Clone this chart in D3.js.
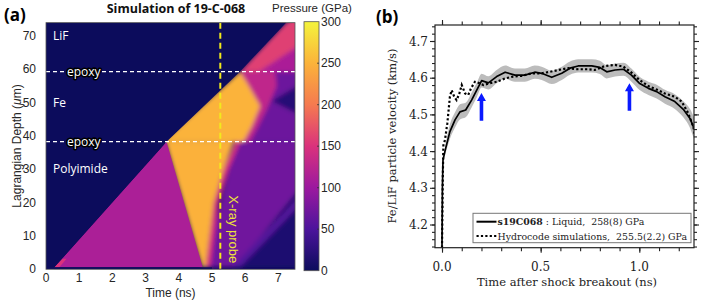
<!DOCTYPE html>
<html>
<head>
<meta charset="utf-8">
<script src="https://cdn.jsdelivr.net/npm/d3@7"></script>
<style>
   body { margin: 0; background: #fff; }
   svg { display: block; }
</style>
</head>
<body>
<svg id="chart" width="706" height="301"></svg>
<script>

// PANEL A : PRESSURE COLOUR SCALE
var pressureStops = [0, 50, 100, 150, 200, 250, 300];
var pressureColors = ['#0c0c5c', '#4c149c', '#9c199f', '#da327c', '#f57a50', '#fbb33a', '#f4f43c'];
var pressureTicks = [0, 50, 100, 150, 200, 250, 300];

// PANEL A : AXES
var timeTicks = [0, 1, 2, 3, 4, 5, 6, 7];
var depthTicks = [0, 10, 20, 30, 40, 50, 60, 70];
var epoxyDepths = [38.3, 59.3];
var probeTime = 5.25;

// PANEL A : SIMULATION REGIONS [time (ns), depth (um)] AND PRESSURE (GPa)
var softRegions = [
   [[4.8, 0.6], [5.7, 38.3], [7.9, 38.3], [7.9, 27], [5.7, 0.6]],
   [[5.7, 0.6], [7.9, 26], [7.9, 0.6]],
   [[5.6, 0.6], [5.85, 0.6], [7.9, 22], [7.9, 25]],
   [[5.6, 38.3], [7.9, 38.3], [7.9, 59.3], [5.84, 59.3]],
   [[5.84, 59.3], [6.9, 59.3], [6.95, 55], [6.65, 48], [6.35, 42], [6.15, 38.3], [5.7, 38.3]],
   [[6.8, 50.5], [7.9, 57], [7.9, 45]],
   [[5.84, 59.3], [7.23, 74], [7.9, 78], [7.9, 59.3]],
   [[6.4, 59.3], [7.9, 59.3], [7.9, 69]],
   [[3.5, 38.3], [5.84, 59.3], [6.05, 56], [6.45, 49], [6.2, 43], [5.95, 38.3]],
   [[4.8, 0.6], [5.05, 20], [5.35, 30], [5.7, 38.3], [5.85, 38.3], [5.5, 30], [5.2, 20], [4.95, 0.6]],
   [[3.6, 38.3], [4.7, 0.6], [4.8, 0.6], [5.05, 20], [5.35, 30], [5.65, 38.3]]
];
var softPressure = [72, 15, 55, 70, 128, 20, 160, 112, 250, 150, 248];

var sharpRegions = [
   [[0.25, 0.6], [3.63, 38.3], [4.72, 0.6]],
   [[0.25, 0.6], [0.5, 3.2], [0.62, 3.2], [0.4, 0.6]],
   [[0, 0], [0, 80], [7.5, 80], [7.23, 74], [5.84, 59.3], [3.63, 38.3], [0.25, 0.6], [0.25, 0], [5.0, 0], [5.0, 0.6], [0, 0.6]]
];
var sharpPressure = [112, 150, 0];

// PANEL A : LABELS
var layerNames = ['LiF', 'Fe', 'Polyimide'];
var layerDepths = [70, 50, 30];

// PANEL B : s19C068 MEASUREMENT
var measTime = [0, 0.002, 0.005, 0.015, 0.04, 0.066, 0.091, 0.12, 0.15, 0.176, 0.201, 0.235, 0.277, 0.32, 0.37, 0.42, 0.47, 0.505, 0.556, 0.607, 0.649, 0.69, 0.759, 0.8, 0.835, 0.877, 0.92, 0.96, 1.0, 1.046, 1.088, 1.13, 1.18, 1.223, 1.257, 1.279];
var measVel = [4.137, 4.30, 4.375, 4.40, 4.453, 4.485, 4.507, 4.512, 4.539, 4.566, 4.592, 4.586, 4.603, 4.615, 4.607, 4.607, 4.615, 4.612, 4.601, 4.612, 4.626, 4.632, 4.632, 4.628, 4.616, 4.621, 4.623, 4.607, 4.585, 4.571, 4.562, 4.548, 4.535, 4.514, 4.489, 4.460];
var measErr = [0, 0, 0, 0.012, 0.02, 0.021, 0.021, 0.02, 0.02, 0.02, 0.019, 0.018, 0.018, 0.018, 0.018, 0.018, 0.018, 0.018, 0.018, 0.018, 0.018, 0.018, 0.018, 0.018, 0.018, 0.018, 0.018, 0.018, 0.018, 0.018, 0.019, 0.019, 0.02, 0.022, 0.026, 0.03];

// PANEL B : HYDROCODE SIMULATION
var simTime = [0, 0.004, 0.007, 0.015, 0.027, 0.04, 0.049, 0.062, 0.074, 0.088, 0.1, 0.117, 0.133, 0.147, 0.167, 0.19, 0.21, 0.243, 0.277, 0.32, 0.36, 0.404, 0.455, 0.505, 0.547, 0.59, 0.64, 0.69, 0.742, 0.775, 0.826, 0.877, 0.92, 0.96, 1.0, 1.046, 1.096, 1.13, 1.18, 1.215, 1.248, 1.274, 1.283];
var simVel = [4.137, 4.33, 4.416, 4.43, 4.476, 4.548, 4.566, 4.548, 4.539, 4.557, 4.58, 4.557, 4.553, 4.571, 4.589, 4.585, 4.58, 4.585, 4.589, 4.598, 4.603, 4.605, 4.612, 4.612, 4.616, 4.621, 4.626, 4.623, 4.623, 4.621, 4.632, 4.635, 4.630, 4.614, 4.594, 4.577, 4.566, 4.557, 4.548, 4.535, 4.503, 4.466, 4.44];

// PANEL B : ARROWS AND TICKS
var arrowTime = [0.2, 0.95];
var arrowFrom = [4.483, 4.51];
var arrowTo = [4.558, 4.585];
var velTicks = [4.2, 4.3, 4.4, 4.5, 4.6, 4.7];
var velMinor = d3.range(4.14, 4.745, 0.02);
var tTicks = [0, 0.5, 1.0];
var tMinor = [0, 0.1, 0.2, 0.3, 0.4, 0.5, 0.6, 0.7, 0.8, 0.9, 1.0, 1.1, 1.2];

var legendNames = ['s19C068', 'Hydrocode simulations,\u00a0\u00a0255.5(2.2) GPa'];

var svg = d3.select('#chart');
var defs = svg.append('defs');

// ================= PANEL A =================
var a = { left: 46, right: 295, top: 22, bottom: 269.3 };

var xA = d3.scaleLinear().domain([0, 7.5]).range([a.left, a.right]);
var yA = d3.scaleLinear().domain([0, 74]).range([a.bottom, a.bottom - 74 * 3.333]);
var color = d3.scaleLinear().domain(pressureStops).range(pressureColors).interpolate(d3.interpolateRgb);

var pathA = d3.line()
   .x((d) => { return xA(d[0]) })
   .y((d) => { return yA(d[1]) })

defs.append('clipPath').attr('id', 'clipA')
   .append('rect')
      .attr('x', a.left).attr('y', yA(74))
      .attr('width', a.right - a.left).attr('height', a.bottom - yA(74))

defs.append('filter').attr('id', 'soft')
   .attr('x', '-20%').attr('y', '-20%').attr('width', '140%').attr('height', '140%')
   .append('feGaussianBlur').attr('stdDeviation', 2.2)

var heat = svg.append('g').attr('clip-path', 'url(#clipA)');

// BACKGROUND
heat.append('rect')
   .attr('x', a.left).attr('y', yA(74))
   .attr('width', a.right - a.left).attr('height', a.bottom - yA(74))
   .attr('fill', color(0))

// BLURRED REGIONS
heat.append('g').attr('filter', 'url(#soft)')
   .selectAll('path')
   .data(softRegions)
      .enter().append('path')
         .attr('d', (d) => { return pathA(d) + 'Z' })
         .attr('fill', (d, i) => { return color(softPressure[i]) })

// SHARP FRONTS
heat.append('g')
   .selectAll('path')
   .data(sharpRegions)
      .enter().append('path')
         .attr('d', (d) => { return pathA(d) + 'Z' })
         .attr('fill', (d, i) => { return color(sharpPressure[i]) })

// EPOXY LINES
heat.selectAll('.epoxy')
   .data(epoxyDepths)
      .enter().append('line')
         .attr('x1', a.left).attr('x2', a.right)
         .attr('y1', (d) => { return yA(d) }).attr('y2', (d) => { return yA(d) })
         .attr('stroke', '#fff')
         .attr('stroke-width', 1.4)
         .attr('stroke-dasharray', '4,3')

// X-RAY PROBE LINE
heat.append('line')
   .attr('x1', xA(probeTime)).attr('x2', xA(probeTime))
   .attr('y1', yA(74)).attr('y2', a.bottom)
   .attr('stroke', '#f2ea1c')
   .attr('stroke-width', 2)
   .attr('stroke-dasharray', '6,4')

heat.append('text')
   .attr('transform', 'translate(' + (xA(probeTime) + 9) + ',' + yA(12) + ') rotate(90)')
   .attr('text-anchor', 'middle')
   .attr('font-family', 'Liberation Sans')
   .attr('font-size', 13)
   .attr('fill', '#ece33a')
   .text('X-ray probe')

// LAYER NAMES
svg.selectAll('.layer')
   .data(layerNames)
      .enter().append('text')
         .attr('x', 53)
         .attr('y', (d, i) => { return yA(layerDepths[i]) + 4 })
         .attr('font-family', 'Open Sans')
         .attr('font-size', 12)
         .attr('fill', '#fff')
         .text((d) => { return d })

svg.selectAll('.epoxyLabel')
   .data(epoxyDepths)
      .enter().append('text')
         .attr('x', 67)
         .attr('y', (d) => { return yA(d) + 4 })
         .attr('font-family', 'Open Sans')
         .attr('font-size', 12)
         .attr('fill', '#fff')
         .attr('stroke', '#000')
         .attr('stroke-width', 3)
         .attr('stroke-linejoin', 'round')
         .attr('paint-order', 'stroke')
         .text('epoxy')

// FRAME
svg.append('rect')
   .attr('x', a.left).attr('y', yA(74))
   .attr('width', a.right - a.left).attr('height', a.bottom - yA(74))
   .attr('fill', 'none')
   .attr('stroke', '#555')
   .attr('stroke-width', 0.8)

// AXES A
svg.selectAll('.tA')
   .data(timeTicks)
      .enter().append('text')
         .attr('x', (d) => { return xA(d) })
         .attr('y', 282)
         .attr('text-anchor', 'middle')
         .attr('font-family', 'Liberation Sans')
         .attr('font-size', 12)
         .attr('fill', '#262626')
         .text((d) => { return d })

svg.selectAll('.dA')
   .data(depthTicks)
      .enter().append('text')
         .attr('x', 36)
         .attr('y', (d) => { return yA(d) + 4 })
         .attr('text-anchor', 'end')
         .attr('font-family', 'Liberation Sans')
         .attr('font-size', 12)
         .attr('fill', '#262626')
         .text((d) => { return d })

svg.append('text')
   .attr('x', xA(3.75)).attr('y', 297)
   .attr('text-anchor', 'middle')
   .attr('font-family', 'Liberation Sans')
   .attr('font-size', 12)
   .attr('fill', '#262626')
   .text('Time (ns)')

var ylab = svg.append('text')
   .attr('transform', 'translate(21,' + yA(37) + ') rotate(-90)')
   .attr('text-anchor', 'middle')
   .attr('font-family', 'Liberation Sans')
   .attr('font-size', 12)
   .attr('fill', '#262626')
ylab.append('tspan').text('Lagrangian Depth (')
ylab.append('tspan').attr('font-style', 'italic').text('μ')
ylab.append('tspan').text('m)')

svg.append('text')
   .attr('x', 176).attr('y', 12.5)
   .attr('text-anchor', 'middle')
   .attr('font-family', 'Open Sans')
   .attr('font-weight', 'bold')
   .attr('font-size', 12.5)
   .attr('fill', '#111')
   .text('Simulation of 19-C-068')

svg.append('text')
   .attr('x', 4).attr('y', 21)
   .attr('font-family', 'Open Sans')
   .attr('font-weight', 'bold')
   .attr('font-size', 17)
   .attr('fill', '#000')
   .text('(a)')

// COLOURBAR
var cb = { left: 304, right: 319, top: 21.7, bottom: 270.7 };
var yC = d3.scaleLinear().domain([0, 300]).range([cb.bottom, cb.top]);

var grad = defs.append('linearGradient').attr('id', 'cbar')
   .attr('x1', 0).attr('y1', 1).attr('x2', 0).attr('y2', 0)
grad.selectAll('stop')
   .data(pressureStops)
      .enter().append('stop')
         .attr('offset', (d) => { return d / 300 })
         .attr('stop-color', (d) => { return color(d) })

svg.append('rect')
   .attr('x', cb.left).attr('y', cb.top)
   .attr('width', cb.right - cb.left).attr('height', cb.bottom - cb.top)
   .attr('fill', 'url(#cbar)')
   .attr('stroke', '#555')
   .attr('stroke-width', 0.8)

svg.selectAll('.cbTick')
   .data(pressureTicks.slice(1, -1))
      .enter().append('line')
         .attr('x1', cb.right - 2).attr('x2', cb.right)
         .attr('y1', (d) => { return yC(d) }).attr('y2', (d) => { return yC(d) })
         .attr('stroke', '#333')
         .attr('stroke-width', 0.8)

svg.selectAll('.cbLabel')
   .data(pressureTicks)
      .enter().append('text')
         .attr('x', 321)
         .attr('y', (d) => { return yC(d) + 4 })
         .attr('font-family', 'Liberation Sans')
         .attr('font-size', 12)
         .attr('fill', '#262626')
         .text((d) => { return d })

svg.append('text')
   .attr('x', 272).attr('y', 12)
   .attr('font-family', 'Liberation Sans')
   .attr('font-size', 11.5)
   .attr('fill', '#262626')
   .text('Pressure (GPa)')

// ================= PANEL B =================
var b = { left: 435, right: 694, top: 25, bottom: 247.7 };

var xB = d3.scaleLinear().domain([-0.0355, 1.2772]).range([b.left, b.right]);
var yB = d3.scaleLinear().domain([4.1368, 4.7436]).range([b.bottom, b.top]);

defs.append('clipPath').attr('id', 'clipB')
   .append('rect')
      .attr('x', b.left).attr('y', b.top)
      .attr('width', b.right - b.left).attr('height', b.bottom - b.top)

var plot = svg.append('g').attr('clip-path', 'url(#clipB)');

// ERROR BAND
var bandIdx = d3.range(3, measTime.length);
var band = d3.area()
   .x((i) => { return xB(measTime[i]) })
   .y0((i) => { return yB(measVel[i] - measErr[i]) })
   .y1((i) => { return yB(measVel[i] + measErr[i]) })
   .curve(d3.curveMonotoneX)

plot.append('path')
   .attr('d', band(bandIdx))
   .attr('fill', '#bcbcbc')

// LINES
var lineB = d3.line()
   .x((d) => { return xB(d[0]) })
   .y((d) => { return yB(d[1]) })

plot.append('path')
   .attr('d', lineB(d3.zip(simTime, simVel)))
   .attr('fill', 'none')
   .attr('stroke', '#000')
   .attr('stroke-width', 2.2)
   .attr('stroke-dasharray', '2.2,2.2')

plot.append('path')
   .attr('d', lineB(d3.zip(measTime, measVel)))
   .attr('fill', 'none')
   .attr('stroke', '#000')
   .attr('stroke-width', 1.7)
   .attr('stroke-linejoin', 'round')

// BLUE ARROWS
plot.selectAll('.arrow')
   .data(arrowTime)
      .enter().append('path')
         .attr('d', (d, i) => {
            var x = xB(d), y0 = yB(arrowFrom[i]), y1 = yB(arrowTo[i]);
            return 'M' + (x - 1.8) + ',' + y0 + 'V' + (y1 + 8) + 'H' + (x - 4.5) +
               'L' + x + ',' + y1 + 'L' + (x + 4.5) + ',' + (y1 + 8) + 'H' + (x + 1.8) + 'V' + y0 + 'Z';
         })
         .attr('fill', '#0a1aff')

// FRAME
svg.append('rect')
   .attr('x', b.left).attr('y', b.top)
   .attr('width', b.right - b.left).attr('height', b.bottom - b.top)
   .attr('fill', 'none')
   .attr('stroke', '#222')
   .attr('stroke-width', 1.2)

// TICKS (OUTWARD, ALL SIDES)
function ticks(g, axis) {
   g.call(axis);
   g.select('.domain').remove();
   g.selectAll('line').attr('stroke', '#222').attr('stroke-width', 1.1);
   g.selectAll('text').remove();
}

svg.append('g').attr('transform', 'translate(' + b.left + ',0)')
   .call(ticks, d3.axisLeft(yB).tickValues(velTicks).tickSize(5))
svg.append('g').attr('transform', 'translate(' + b.left + ',0)')
   .call(ticks, d3.axisLeft(yB).tickValues(velMinor).tickSize(3))
svg.append('g').attr('transform', 'translate(' + b.right + ',0)')
   .call(ticks, d3.axisRight(yB).tickValues(velTicks).tickSize(5))
svg.append('g').attr('transform', 'translate(' + b.right + ',0)')
   .call(ticks, d3.axisRight(yB).tickValues(velMinor).tickSize(3))
svg.append('g').attr('transform', 'translate(0,' + b.bottom + ')')
   .call(ticks, d3.axisBottom(xB).tickValues(tTicks).tickSize(5))
svg.append('g').attr('transform', 'translate(0,' + b.bottom + ')')
   .call(ticks, d3.axisBottom(xB).tickValues(tMinor).tickSize(3.5))
svg.append('g').attr('transform', 'translate(0,' + b.top + ')')
   .call(ticks, d3.axisTop(xB).tickValues(tTicks).tickSize(5))
svg.append('g').attr('transform', 'translate(0,' + b.top + ')')
   .call(ticks, d3.axisTop(xB).tickValues(tMinor).tickSize(3.5))

// TICK LABELS
svg.selectAll('.vLabel')
   .data(velTicks)
      .enter().append('text')
         .attr('x', 428)
         .attr('y', (d) => { return yB(d) + 4.5 })
         .attr('text-anchor', 'end')
         .attr('font-family', 'DejaVu Serif')
         .attr('font-size', 12)
         .attr('fill', '#222')
         .text((d) => { return d.toFixed(1) })

svg.selectAll('.tLabel')
   .data(tTicks)
      .enter().append('text')
         .attr('x', (d) => { return xB(d) })
         .attr('y', 271)
         .attr('text-anchor', 'middle')
         .attr('font-family', 'DejaVu Serif')
         .attr('font-size', 12)
         .attr('fill', '#222')
         .text((d) => { return d.toFixed(1) })

svg.append('text')
   .attr('x', 567).attr('y', 286)
   .attr('text-anchor', 'middle')
   .attr('font-family', 'DejaVu Serif')
   .attr('font-size', 11.5)
   .attr('fill', '#222')
   .text('Time after shock breakout (ns)')

svg.append('text')
   .attr('transform', 'translate(396,136) rotate(-90)')
   .attr('text-anchor', 'middle')
   .attr('font-family', 'DejaVu Serif')
   .attr('font-size', 11.5)
   .attr('fill', '#222')
   .text('Fe/LiF particle velocity (km/s)')

svg.append('text')
   .attr('x', 376).attr('y', 23)
   .attr('font-family', 'Open Sans')
   .attr('font-weight', 'bold')
   .attr('font-size', 17)
   .attr('fill', '#000')
   .text('(b)')

// LEGEND
var leg = svg.append('g');
leg.append('rect')
   .attr('x', 473).attr('y', 213.3)
   .attr('width', 218).attr('height', 29.4)
   .attr('fill', '#fff')
   .attr('stroke', '#777')
   .attr('stroke-width', 1)

leg.append('line')
   .attr('x1', 476.5).attr('x2', 496.5).attr('y1', 221.7).attr('y2', 221.7)
   .attr('stroke', '#000').attr('stroke-width', 2)
leg.append('line')
   .attr('x1', 476.5).attr('x2', 496.5).attr('y1', 236).attr('y2', 236)
   .attr('stroke', '#000').attr('stroke-width', 2.2).attr('stroke-dasharray', '2.2,2.2')

var t1 = leg.append('text')
   .attr('x', 497.5).attr('y', 225.3)
   .attr('font-family', 'DejaVu Serif')
   .attr('font-size', 9.4)
   .attr('fill', '#222')
t1.append('tspan').attr('font-weight', 'bold').text(legendNames[0])
t1.append('tspan').text(' : Liquid,\u00a0\u00a0258(8) GPa')

leg.append('text')
   .attr('x', 497.5).attr('y', 239.5)
   .attr('font-family', 'DejaVu Serif')
   .attr('font-size', 9.4)
   .attr('fill', '#222')
   .text(legendNames[1])

</script>
</body>
</html>
